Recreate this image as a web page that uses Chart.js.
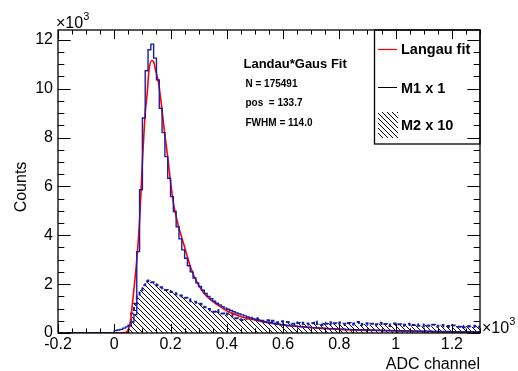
<!DOCTYPE html>
<html><head><meta charset="utf-8">
<script src="https://cdn.jsdelivr.net/npm/chart.js@4.4.0/dist/chart.umd.min.js"></script>
<style>html,body{margin:0;padding:0;background:#fff;}#wrap{width:518px;height:371px;}</style>
</head><body><div id="wrap"><canvas id="c" width="518" height="371"></canvas></div>
<script>
// ---------------- data (x in units of 10^3 ADC channels, y in units of 10^3 counts) ----------------
const binLow = -0.2;
const binWidth = 0.01;
const xTickValues = [-0.2, 0, 0.2, 0.4, 0.6, 0.8, 1.0, 1.2];
const yTickValues = [0, 2, 4, 6, 8, 10, 12];

// M1 x 1  (150 bins from -0.2 to 1.3)
const m1Values = [
  0,0,0,0,0,0,0,0,0,0, 0,0,0,0,0,0,0,0,0,0,
  0.10,0.12,0.15,0.20,0.25,0.32,0.45,0.75,3.33,5.86,
  8.80,10.73,11.59,11.82,11.25,10.36,9.20,8.20,7.22,6.33,
  5.58,4.97,4.35,3.85,3.40,3.06,2.75,2.50,2.25,2.05,
  1.90,1.75,1.62,1.50,1.40,1.30,1.22,1.15,1.08,1.02,
  0.97,0.92,0.87,0.82,0.78,0.74,0.70,0.66,0.62,0.58,
  0.55,0.52,0.49,0.46,0.44,0.42,0.40,0.38,0.36,0.34,
  0.33,0.31,0.30,0.29,0.28,0.27,0.26,0.25,0.24,0.23,
  0.22,0.22,0.21,0.20,0.20,0.19,0.18,0.18,0.17,0.17,
  0.16,0.16,0.15,0.15,0.14,0.14,0.13,0.13,0.13,0.12,
  0.12,0.12,0.11,0.11,0.11,0.10,0.10,0.10,0.10,0.09,
  0.09,0.09,0.09,0.08,0.08,0.08,0.08,0.08,0.07,0.07,
  0.07,0.07,0.07,0.06,0.06,0.06,0.06,0.06,0.06,0.05,
  0.05,0.05,0.05,0.05,0.05,0.05,0.05,0.05,0.05,0.05
];

// M2 x 10 (150 bins from -0.2 to 1.3)
const m2Values = [
  0,0,0,0,0,0,0,0,0,0, 0,0,0,0,0,0,0,0,0,0,
  0,0,0,0,0.05,0.30,0.80,1.20,1.50,1.75,
  1.95,2.12,2.15,2.08,2.00,1.95,1.87,1.82,1.76,1.72,
  1.68,1.63,1.58,1.53,1.49,1.44,1.38,1.30,1.28,1.24,
  1.20,1.12,1.05,0.98,0.92,0.87,0.94,0.86,0.80,0.74,
  0.80,0.78,0.66,0.60,0.56,0.53,0.58,0.60,0.62,0.57,
  0.60,0.55,0.50,0.48,0.52,0.45,0.50,0.42,0.44,0.48,
  0.42,0.45,0.40,0.38,0.44,0.41,0.36,0.42,0.39,0.35,
  0.40,0.47,0.37,0.33,0.42,0.38,0.44,0.34,0.40,0.36,
  0.43,0.38,0.33,0.41,0.35,0.39,0.45,0.32,0.37,0.40,
  0.34,0.38,0.31,0.36,0.42,0.33,0.37,0.29,0.35,0.39,
  0.32,0.36,0.30,0.34,0.38,0.28,0.33,0.36,0.30,0.27,
  0.35,0.31,0.28,0.34,0.26,0.30,0.33,0.27,0.29,0.25,
  0.31,0.28,0.26,0.30,0.24,0.29,0.27,0.25,0.30,0.26
];

// Langau fit curve
const fitX = [-0.2,0.0,0.03,0.045,0.057,0.069,0.08,0.09,0.1,0.11,0.117,0.123,0.133,0.14,0.146,0.158,0.17,0.18,0.19,0.2,0.212,0.23,0.248,0.271,0.295,0.319,0.343,0.367,0.4,0.438,0.48,0.53,0.6,0.7,0.8,0.9,1.0,1.1,1.2,1.3];
const fitY = [0,0,0,0.05,0.46,1.69,3.0,4.6,7.0,9.0,9.8,10.7,11.15,11.1,10.8,10.2,9.1,8.1,7.2,6.2,5.2,4.3,3.6,2.7,2.05,1.63,1.35,1.15,0.91,0.72,0.58,0.45,0.33,0.22,0.15,0.11,0.08,0.06,0.045,0.035];

const statLines = ['N = 175491', 'pos  = 133.7', 'FWHM = 114.0'];
const statTitle = 'Landau*Gaus Fit';
const legendLabels = ['Langau fit', 'M1 x 1', 'M2 x 10'];

// ---------------- build ----------------
const FONT = '"Liberation Sans", Arial, sans-serif';
function histPoints(vals){
  const pts = vals.map((v,i)=>({x: binLow + i*binWidth, y: v}));
  pts.push({x: binLow + vals.length*binWidth, y: vals[vals.length-1]});
  return pts;
}
const canvas = document.getElementById('c');
const ctx0 = canvas.getContext('2d');
const tile = document.createElement('canvas');
tile.width = 5; tile.height = 5;
const tg = tile.getContext('2d');
const img = tg.createImageData(5,5);
for (let i=0;i<5;i++){ const k=(i*5+i)*4; img.data[k]=0; img.data[k+1]=0; img.data[k+2]=0; img.data[k+3]=255; }
tg.putImageData(img,0,0);
const hatch = ctx0.createPattern(tile,'repeat');

const BLUE = '#1c1ca8';

const decor = {
  id: 'decor',
  afterDraw(chart){
    const {ctx, chartArea:a, scales:{x, y}} = chart;
    ctx.save();
    // legend box
    ctx.fillStyle = '#fff';
    ctx.fillRect(374.5, 30, 105.5, 114);
    ctx.strokeStyle = '#000'; ctx.lineWidth = 1.3;
    ctx.strokeRect(374.5, 30, 105.5, 114);
    ctx.strokeStyle = '#ff0000'; ctx.lineWidth = 1.2;
    ctx.beginPath(); ctx.moveTo(378, 49.5); ctx.lineTo(397, 49.5); ctx.stroke();
    ctx.strokeStyle = '#000'; ctx.lineWidth = 1;
    ctx.beginPath(); ctx.moveTo(378, 87.5); ctx.lineTo(397, 87.5); ctx.stroke();
    ctx.fillStyle = hatch; ctx.fillRect(378, 112, 20, 26);
    ctx.fillStyle = '#000';
    ctx.font = 'bold 14.5px ' + FONT; ctx.textBaseline = 'alphabetic'; ctx.textAlign = 'left';
    ctx.fillText(legendLabels[0], 401, 54);
    ctx.fillText(legendLabels[1], 401, 93);
    ctx.fillText(legendLabels[2], 401, 130);
    // stats text
    ctx.font = 'bold 13px ' + FONT;
    ctx.fillText(statTitle, 243.5, 68);
    ctx.font = 'bold 10px ' + FONT;
    ctx.fillText(statLines[0], 245.5, 87);
    ctx.fillText(statLines[1], 245.5, 106);
    ctx.fillText(statLines[2], 245.5, 125.5);
    // frame
    ctx.strokeStyle = '#000'; ctx.lineWidth = 1.3;
    ctx.strokeRect(a.left, a.top, a.right - a.left, a.bottom - a.top);
    // ticks
    ctx.lineWidth = 1;
    const xMaj = 9.1, yMaj = 12.7;
    ctx.beginPath();
    for (let k=0;k<=30;k++){
      const v = -0.2 + k*0.05;
      const px = Math.round(x.getPixelForValue(v)) + 0.5;
      const L = (k%4===0) ? xMaj : xMaj/2;
      ctx.moveTo(px, a.bottom); ctx.lineTo(px, a.bottom - L);
      ctx.moveTo(px, a.top); ctx.lineTo(px, a.top + L);
    }
    for (let k=0;k<=24;k++){
      const v = k*0.5;
      const py = Math.round(y.getPixelForValue(v)) + 0.5;
      const L = (k%4===0) ? yMaj : yMaj/2;
      ctx.moveTo(a.left, py); ctx.lineTo(a.left + L, py);
      ctx.moveTo(a.right, py); ctx.lineTo(a.right - L, py);
    }
    ctx.stroke();
    // exponent labels
    function times10(xs, base){
      ctx.font = '16px ' + FONT; ctx.textAlign = 'left';
      ctx.fillText('\u00d710', xs, base);
      const w = ctx.measureText('\u00d710').width;
      ctx.font = '11px ' + FONT;
      ctx.fillText('3', xs + w, base - 8);
    }
    times10(56, 28);
    times10(482, 333);
    // axis titles
    ctx.font = '16px ' + FONT;
    ctx.textAlign = 'right';
    ctx.fillText('ADC channel', a.right, 369);
    ctx.save();
    ctx.translate(26, 187); ctx.rotate(-Math.PI/2);
    ctx.textAlign = 'center';
    ctx.fillText('Counts', 0, 0);
    ctx.restore();
    ctx.restore();
  }
};

Chart.defaults.font.family = FONT;
Chart.defaults.color = '#000';

new Chart(canvas, {
  type: 'line',
  data: {
    datasets: [
      { label: legendLabels[1], data: histPoints(m1Values), stepped: true, borderColor: BLUE, borderWidth: 1.4, pointRadius: 0, fill: false },
      { label: legendLabels[0], data: fitX.map((v,i)=>({x:v, y:fitY[i]})), borderColor: '#ff0000', borderWidth: 1.6, pointRadius: 0, cubicInterpolationMode: 'monotone', fill: false },
      { label: legendLabels[2], data: histPoints(m2Values), stepped: true, borderColor: BLUE, borderWidth: 2, borderDash: [4,3], pointRadius: 0, fill: 'origin', backgroundColor: hatch }
    ]
  },
  options: {
    responsive: false, animation: false, devicePixelRatio: 1,
    layout: { padding: { top: 30, right: 38, left: 0, bottom: 0 } },
    plugins: { legend: { display: false }, tooltip: { enabled: false } },
    scales: {
      x: {
        type: 'linear', min: -0.2, max: 1.3,
        afterFit(s){ s.height = 38; },
        afterBuildTicks(s){ s.ticks = xTickValues.map(v=>({value:v})); },
        grid: { display: false, drawTicks: false }, border: { display: false },
        ticks: { autoSkip: false, maxRotation: 0, padding: 2, font: { size: 16 }, color: '#000',
          callback: v => String(Number(v.toFixed(1))) }
      },
      y: {
        type: 'linear', min: 0, max: 12.4,
        afterFit(s){ s.width = 58; },
        afterBuildTicks(s){ s.ticks = yTickValues.map(v=>({value:v})); },
        grid: { display: false, drawTicks: false }, border: { display: false },
        ticks: { autoSkip: false, padding: 5, font: { size: 16 }, color: '#000',
          callback: v => String(v) }
      }
    }
  },
  plugins: [decor]
});
</script></body></html>
